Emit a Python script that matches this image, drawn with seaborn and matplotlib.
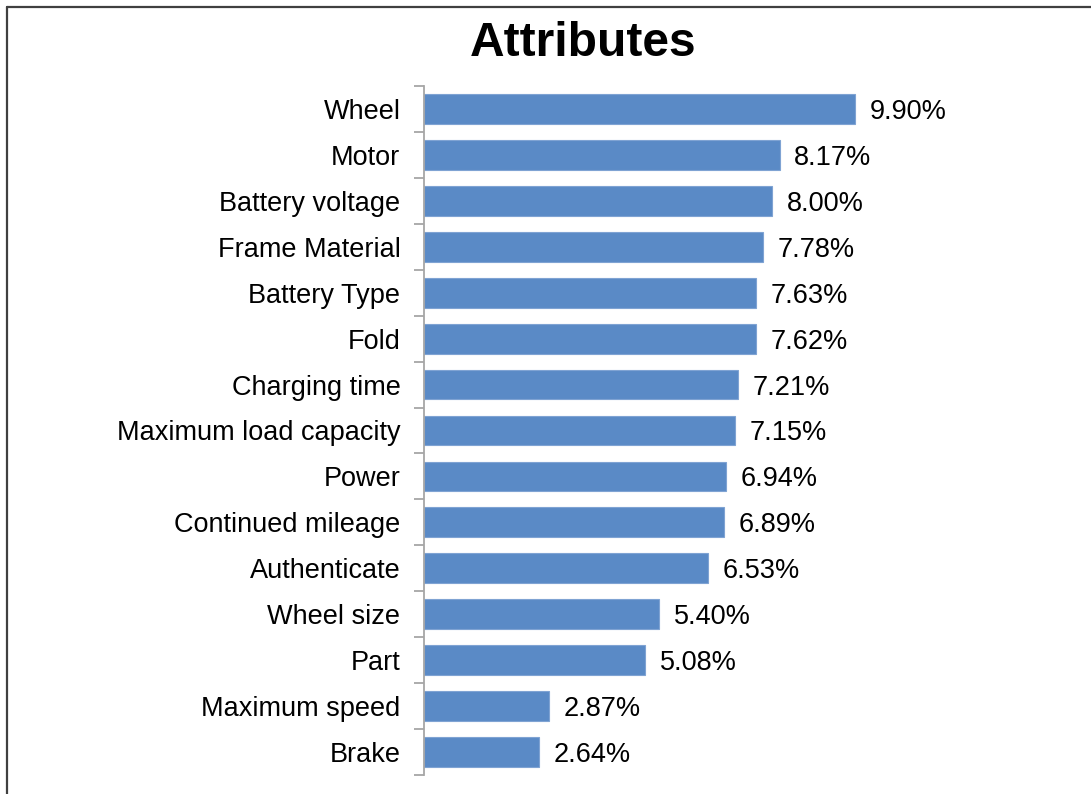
import pandas as pd
import matplotlib
matplotlib.use('Agg')
import matplotlib.pyplot as plt
import seaborn as sns
from matplotlib.lines import Line2D

# Dados
attributes = ['Wheel', 'Motor', 'Battery voltage', 'Frame Material', 'Battery Type',
              'Fold', 'Charging time', 'Maximum load capacity', 'Power',
              'Continued mileage', 'Authenticate', 'Wheel size', 'Part',
              'Maximum speed', 'Brake']
shares = [9.90, 8.17, 8.00, 7.78, 7.63, 7.62, 7.21, 7.15, 6.94, 6.89, 6.53,
          5.40, 5.08, 2.87, 2.64]

df = pd.DataFrame({'attribute': attributes, 'share': shares})

sns.set_style('white')
plt.rcParams['font.family'] = ['Liberation Sans', 'DejaVu Sans']

fig = plt.figure(figsize=(10.91, 7.94), dpi=100)
ax = fig.add_axes([424 / 1091, 1 - 775 / 794, 479 / 1091, 689 / 794])

sns.barplot(data=df, x='share', y='attribute', color='#5A8AC6', saturation=1,
            width=0.65, edgecolor='#7FA3D3', linewidth=0.8, ax=ax)

ax.set_xlim(0, 11)
ax.set_ylim(len(attributes) - 0.5, -0.5)
ax.set_xlabel('')
ax.set_ylabel('')
ax.set_xticks([])

# eixo vertical com marcas entre categorias
for s in ['top', 'right', 'bottom']:
    ax.spines[s].set_visible(False)
ax.spines['left'].set_color('#A6A6A6')
ax.spines['left'].set_linewidth(1.3)
ax.set_yticks([i - 0.5 for i in range(len(attributes) + 1)], minor=True)
ax.tick_params(axis='y', which='minor', length=7, width=1.3, color='#A6A6A6', left=True)
ax.tick_params(axis='y', which='major', length=0, pad=17, labelsize=19.5, labelcolor='black')
for lab in ax.get_yticklabels():
    lab.set_verticalalignment('center_baseline')

for i, v in enumerate(shares):
    ax.text(v + 0.33, i, f'{v:.2f}%', va='center_baseline', ha='left', fontsize=19.5,
            color='black')

fig.text(583 / 1091, 1 - 44 / 794, 'Attributes', ha='center', va='center',
         fontsize=34.5, fontweight='bold', color='black')

# borda superior e esquerda
fig.add_artist(Line2D([7 / 1091, 1.0], [1 - 7 / 794, 1 - 7 / 794], color='#404040', lw=1.6,
                      transform=fig.transFigure))
fig.add_artist(Line2D([7 / 1091, 7 / 1091], [0.0, 1 - 7 / 794], color='#404040', lw=1.6,
                      transform=fig.transFigure))

fig.savefig('out.png', dpi=100, facecolor='white')
